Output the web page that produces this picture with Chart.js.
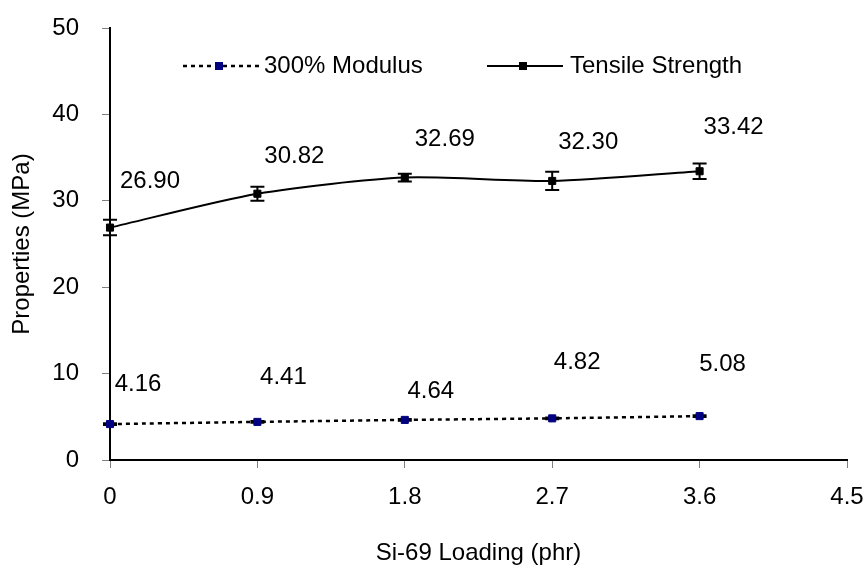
<!DOCTYPE html>
<html>
<head>
<meta charset="utf-8">
<title>Si-69 loading vs properties</title>
<script src="https://cdn.jsdelivr.net/npm/chart.js@4.4.1/dist/chart.umd.min.js"></script>
<style>
  html, body { margin: 0; padding: 0; background: #fff; }
  #wrap { width: 868px; height: 565px; }
</style>
</head>
<body>
<div id="wrap"><canvas id="propChart" width="868" height="565"></canvas></div>
<script>
// Si-69 loading (phr)
const loading = [0, 0.9, 1.8, 2.7, 3.6];

// 300% modulus (MPa) and its spread
const modulus = [4.16, 4.41, 4.64, 4.82, 5.08];
const modulusErr = [0.1, 0.1, 0.1, 0.1, 0.1];

// tensile strength (MPa) and its spread
const tensile = [26.90, 30.82, 32.69, 32.30, 33.42];
const tensileErr = [0.9, 0.8, 0.45, 1.05, 0.9];

const seriesNames = ['300% Modulus', 'Tensile Strength'];

// where each value label sits relative to its point (px)
const modulusLabelShift = [[28, -40], [26, -45], [26, -29], [25, -56], [23, -52]];
const tensileLabelShift = [[40, -46], [37, -37], [40, -38], [36, -39], [34, -44]];

const FONT = '"Liberation Sans", Arial, Helvetica, sans-serif';
const NAVY = '#000080';

Chart.defaults.font.family = FONT;
Chart.defaults.font.size = 24;
Chart.defaults.color = '#000';

const toPoints = (ys) => loading.map((x, i) => ({ x: x, y: ys[i] }));

// fixed axis band, no extra room asked for by edge tick labels
const fixBand = (size) => (s) => {
  if (s.isHorizontal()) s.height = size; else s.width = size;
  s.paddingTop = 0; s.paddingBottom = 0;
  s.paddingLeft = 0; s.paddingRight = 0;
};

// error bars, drawn under the markers
const errorBars = {
  id: 'errorBars',
  beforeDatasetsDraw(chart) {
    const { ctx, scales: { x, y } } = chart;
    const sets = [[modulus, modulusErr], [tensile, tensileErr]];
    ctx.save();
    ctx.strokeStyle = '#000';
    ctx.lineWidth = 2;
    sets.forEach(([vals, errs]) => {
      vals.forEach((v, i) => {
        const px = x.getPixelForValue(loading[i]);
        const top = y.getPixelForValue(v + errs[i]);
        const bot = y.getPixelForValue(v - errs[i]);
        ctx.beginPath();
        ctx.moveTo(px, top); ctx.lineTo(px, bot);
        ctx.moveTo(px - 7, top); ctx.lineTo(px + 7, top);
        ctx.moveTo(px - 7, bot); ctx.lineTo(px + 7, bot);
        ctx.stroke();
      });
    });
    ctx.restore();
  }
};

// value labels beside each point
const valueLabels = {
  id: 'valueLabels',
  afterDatasetsDraw(chart) {
    const { ctx, scales: { x, y } } = chart;
    const sets = [[modulus, modulusLabelShift], [tensile, tensileLabelShift]];
    ctx.save();
    ctx.font = '24px ' + FONT;
    ctx.fillStyle = '#000';
    ctx.textAlign = 'center';
    ctx.textBaseline = 'middle';
    sets.forEach(([vals, shift]) => {
      vals.forEach((v, i) => {
        const px = x.getPixelForValue(loading[i]) + shift[i][0];
        const py = y.getPixelForValue(v) + shift[i][1];
        ctx.fillText(v.toFixed(2), px, py);
      });
    });
    ctx.restore();
  }
};

// legend row inside the top of the plot
const topLegend = {
  id: 'topLegend',
  afterDraw(chart) {
    const { ctx, chartArea: a } = chart;
    const ly = 66;
    ctx.save();
    ctx.font = '24px ' + FONT;
    ctx.fillStyle = '#000';
    ctx.textBaseline = 'middle';
    ctx.textAlign = 'left';

    // 300% Modulus
    ctx.strokeStyle = '#000';
    ctx.lineWidth = 2.5;
    ctx.setLineDash([4, 4]);
    ctx.beginPath();
    ctx.moveTo(a.left + 73, ly); ctx.lineTo(a.left + 149, ly);
    ctx.stroke();
    ctx.setLineDash([]);
    ctx.fillStyle = NAVY;
    ctx.fillRect(a.left + 105, ly - 4, 8, 8);
    ctx.fillStyle = '#000';
    ctx.fillText(seriesNames[0], a.left + 154, ly);

    // Tensile Strength
    ctx.lineWidth = 2;
    ctx.beginPath();
    ctx.moveTo(a.left + 377, ly); ctx.lineTo(a.left + 453, ly);
    ctx.stroke();
    ctx.fillRect(a.left + 409, ly - 4, 8, 8);
    ctx.fillText(seriesNames[1], a.left + 460, ly);
    ctx.restore();
  }
};

new Chart(document.getElementById('propChart'), {
  type: 'line',
  data: {
    datasets: [
      {
        label: seriesNames[0],
        data: toPoints(modulus),
        borderColor: '#000',
        borderWidth: 2.5,
        borderDash: [4, 4],
        tension: 0.2,
        pointStyle: 'rect',
        pointRadius: 5,
        pointBorderWidth: 1,
        pointBackgroundColor: NAVY,
        pointBorderColor: NAVY,
        clip: false
      },
      {
        label: seriesNames[1],
        data: toPoints(tensile),
        borderColor: '#000',
        borderWidth: 2,
        tension: 0.25,
        pointStyle: 'rect',
        pointRadius: 5,
        pointBorderWidth: 1,
        pointBackgroundColor: '#000',
        pointBorderColor: '#000',
        clip: false
      }
    ]
  },
  options: {
    responsive: false,
    animation: false,
    layout: { padding: { top: 28, right: 21, left: 0, bottom: 0 } },
    plugins: {
      legend: { display: false },
      tooltip: { enabled: false }
    },
    scales: {
      x: {
        type: 'linear',
        min: 0,
        max: 4.5,
        afterFit: fixBand(105),
        ticks: {
          stepSize: 0.9,
          padding: 15,
          maxRotation: 0,
          callback: (v) => String(Number(v.toFixed(1)))
        },
        grid: { drawOnChartArea: false, tickLength: 8, color: '#808080' },
        border: { color: '#000', width: 2 },
        title: {
          display: true,
          text: 'Si-69 Loading (phr)',
          font: { size: 24, lineHeight: 1 },
          padding: { top: 0, bottom: 0 }
        }
      },
      y: {
        min: 0,
        max: 50,
        afterFit: fixBand(110),
        ticks: { stepSize: 10, padding: 23 },
        grid: { drawOnChartArea: false, tickLength: 8, color: '#808080' },
        border: { color: '#000', width: 2 },
        title: {
          display: true,
          text: 'Properties (MPa)',
          font: { size: 24 },
          padding: { top: 8, bottom: 0 }
        }
      }
    }
  },
  plugins: [errorBars, valueLabels, topLegend]
});
</script>
</body>
</html>
